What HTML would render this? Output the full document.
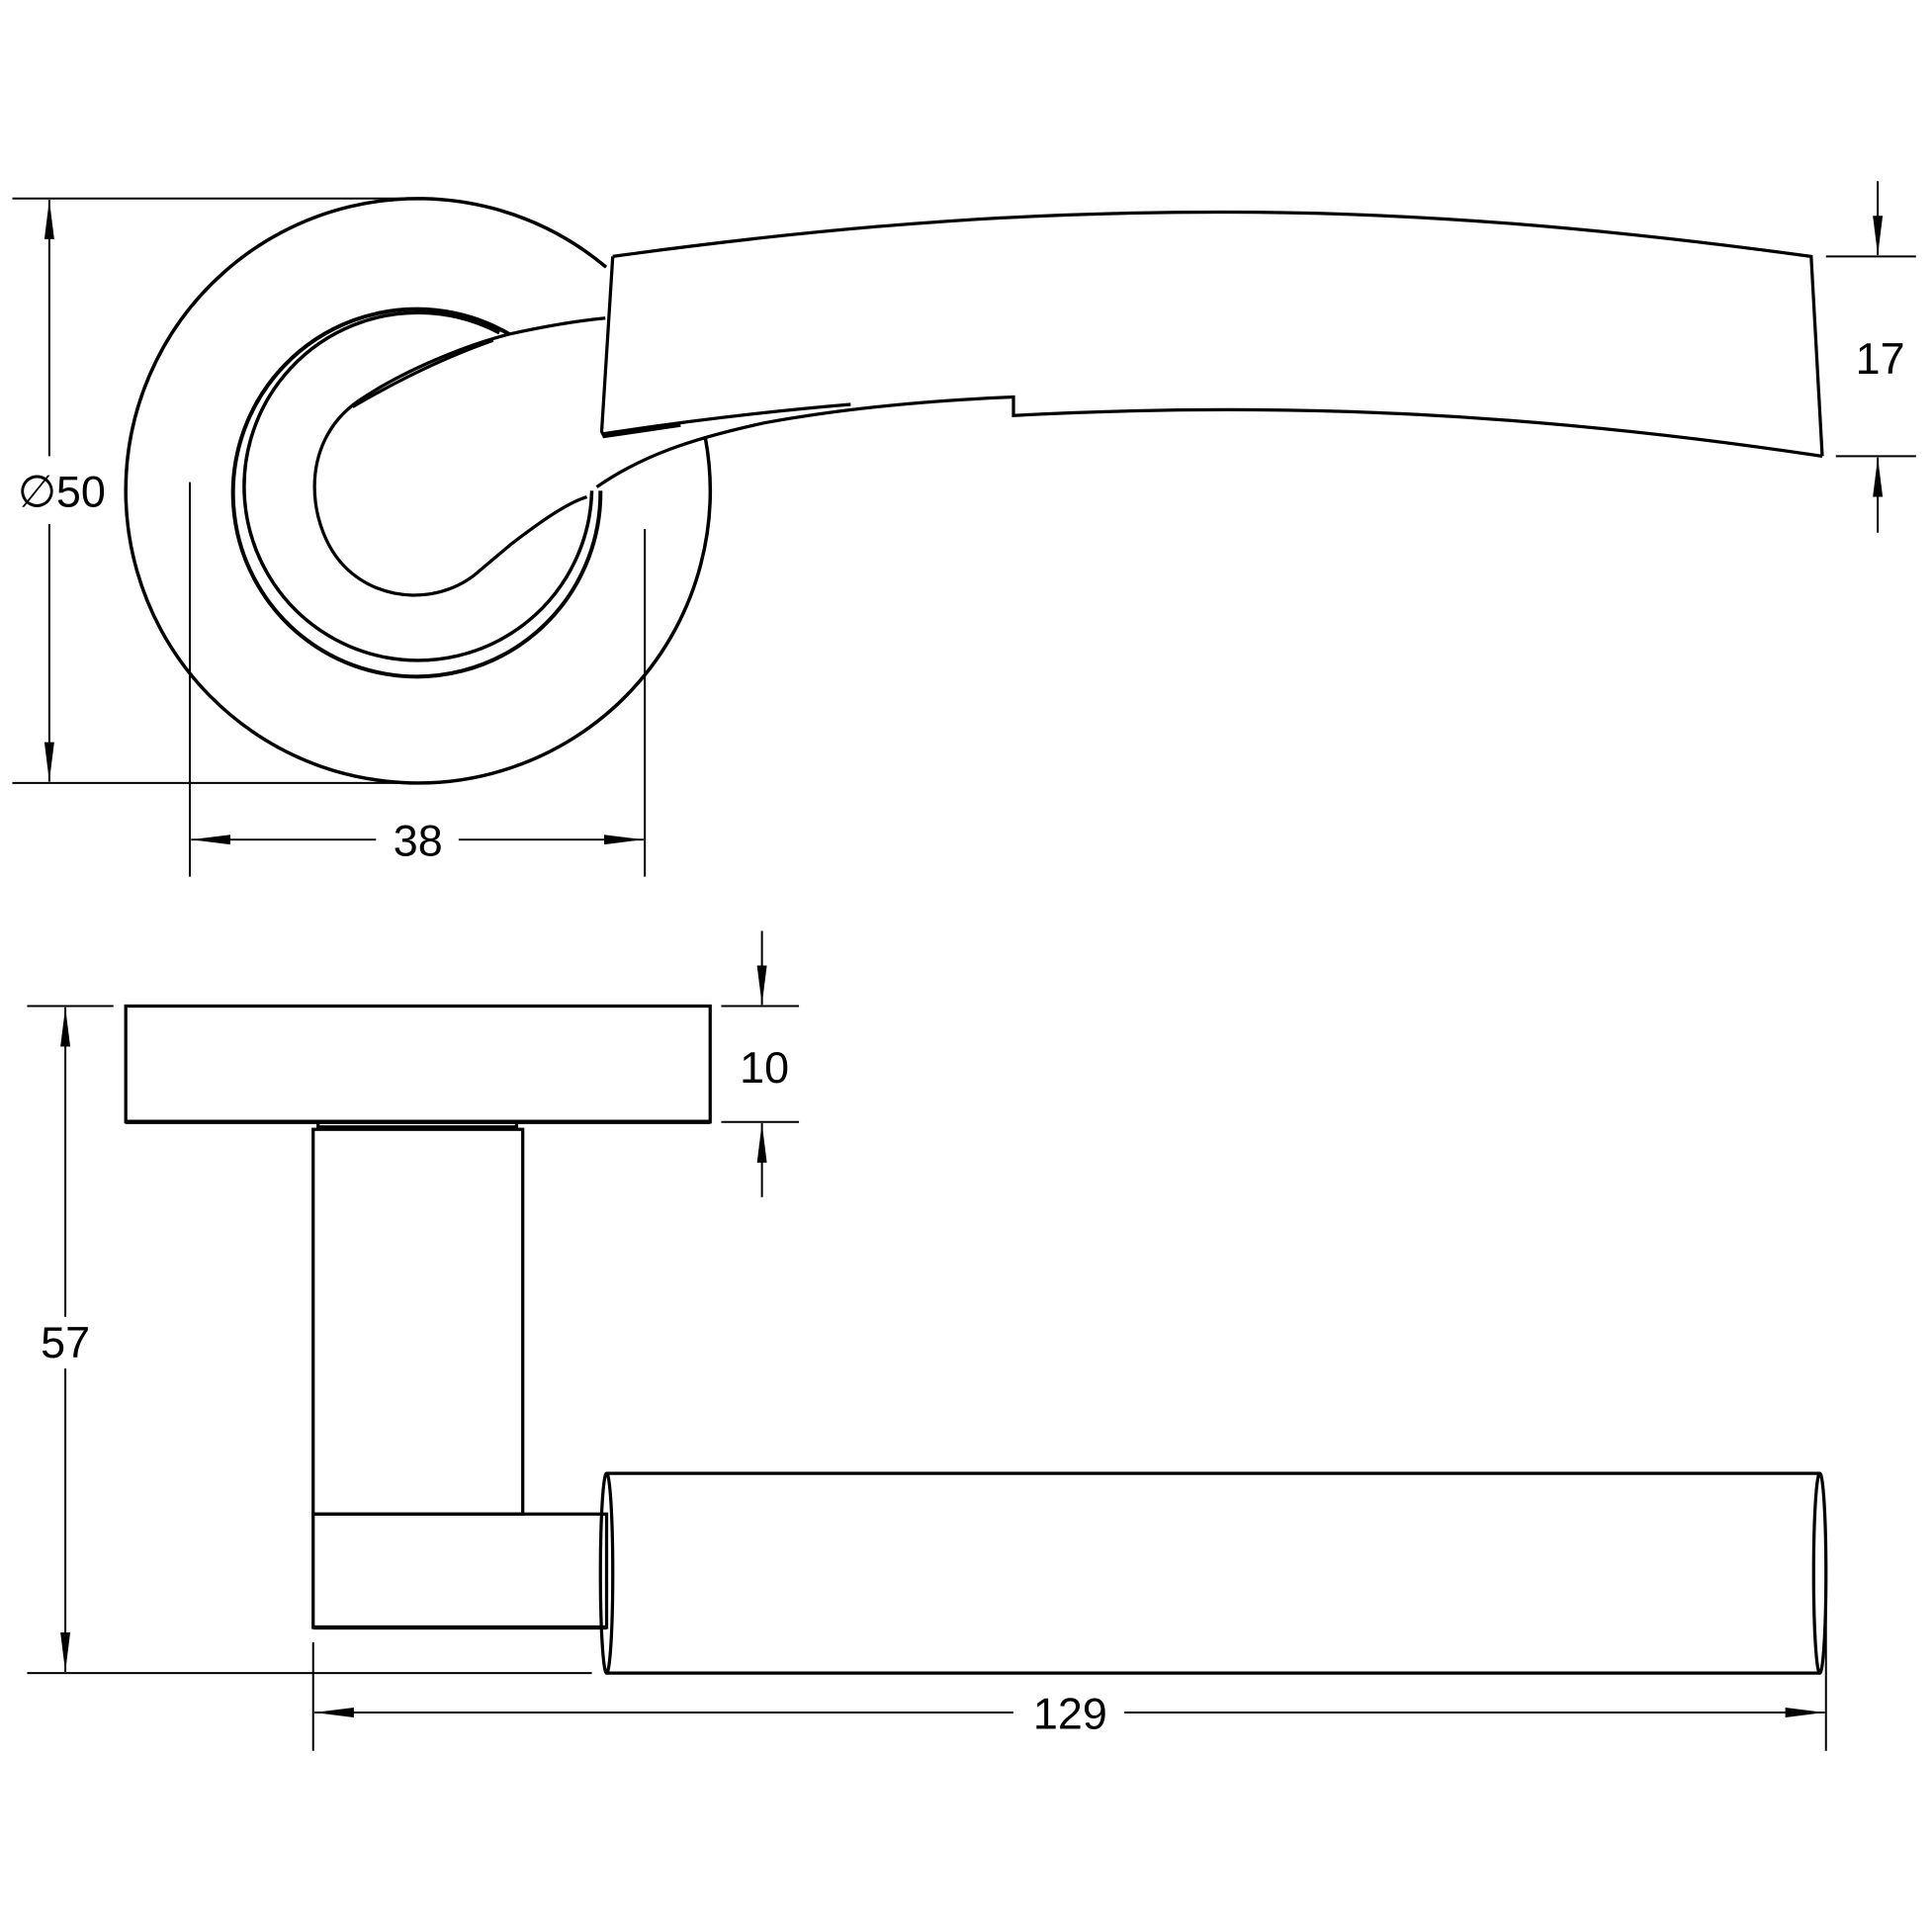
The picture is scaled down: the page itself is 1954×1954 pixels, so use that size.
<!DOCTYPE html>
<html><head><style>html,body{margin:0;padding:0;background:#fff}svg{display:block}</style></head>
<body>
<svg width="1954" height="1954" viewBox="0 0 1567 1567" xmlns="http://www.w3.org/2000/svg">
<defs>
<marker id="a" viewBox="0 0 32 8" refX="32" refY="4" markerWidth="32" markerHeight="8" markerUnits="userSpaceOnUse" orient="auto"><path d="M0,0 L32,4 L0,8 z" fill="#000"/></marker>
</defs>
<g fill="none" stroke="#000" stroke-width="2.6">
<!-- top view -->
<path d="M572,354.6 A237,237 0 1 1 491.6,216.7" stroke-width="2.8"/>
<path d="M291,325 C240,360 250,430 280,460 C310,490 360,490 390,462 L415,441 C440,422 460,408 476,403" stroke-width="2.6"/>
<path d="M413,271 A149,149 0 1 0 487,398" stroke-width="3.2"/>
<path d="M405,270 A141,141 0 1 0 480,398" stroke-width="2.8"/>
<path d="M291,325 C320,305 370,282 413,271 C440,265 470,260 491,258"/>
<path d="M286,330 C320,310 360,290 400,276"/>
<path d="M484,395 C520,370 560,356 620,343 C680,332 750,325 822,322 L822,337 C1050,325 1250,336 1478,370"/>
<path d="M488,352 C560,341 630,333 690,328"/>
<path d="M497,208 C700,180 850,172 990,172 C1150,172 1300,185 1469,208 L1478,370"/>
<path d="M497,208 L488,350 L490,354 L552,345"/>
<!-- dims top -->
<g stroke-width="1.6">
<line x1="10" y1="161" x2="339" y2="161"/><line x1="10" y1="635" x2="339" y2="635"/>
<line x1="40" y1="370" x2="40" y2="162" marker-end="url(#a)"/><line x1="40" y1="425" x2="40" y2="634" marker-end="url(#a)"/>
<line x1="154" y1="391" x2="154" y2="711"/><line x1="523" y1="429" x2="523" y2="711"/>
<line x1="305" y1="681" x2="155" y2="681" marker-end="url(#a)"/><line x1="372" y1="681" x2="522" y2="681" marker-end="url(#a)"/>
<line x1="1481" y1="208" x2="1554" y2="208"/><line x1="1489" y1="370" x2="1554" y2="370"/>
<line x1="1523" y1="147" x2="1523" y2="207" marker-end="url(#a)"/><line x1="1523" y1="432" x2="1523" y2="371" marker-end="url(#a)"/>
</g>
<!-- side view -->
<rect x="102" y="816" width="474" height="94"/>
<line x1="102" y1="910" x2="576" y2="910" stroke-width="3.5"/>
<path d="M258,910 V916 M419,910 V916 M258,914 H419"/>
<rect x="254" y="916" width="170" height="312"/>
<rect x="254" y="1228" width="238" height="92"/>
<line x1="254" y1="1320" x2="492" y2="1320" stroke-width="3.5"/>
<path d="M492,1195 H1476 M492,1357 H1476"/>
<ellipse cx="492" cy="1276" rx="5" ry="81"/>
<ellipse cx="1476" cy="1276" rx="5" ry="81"/>
<g stroke-width="1.6">
<line x1="585" y1="816" x2="648" y2="816"/><line x1="585" y1="910" x2="648" y2="910"/>
<line x1="618" y1="755" x2="618" y2="815" marker-end="url(#a)"/><line x1="618" y1="971" x2="618" y2="911" marker-end="url(#a)"/>
<line x1="22" y1="816" x2="92" y2="816"/><line x1="22" y1="1357" x2="480" y2="1357"/>
<line x1="53" y1="1068" x2="53" y2="817" marker-end="url(#a)"/><line x1="53" y1="1110" x2="53" y2="1356" marker-end="url(#a)"/>
<line x1="254" y1="1332" x2="254" y2="1420"/><line x1="1481" y1="1280" x2="1481" y2="1420"/>
<line x1="822" y1="1389" x2="255" y2="1389" marker-end="url(#a)"/><line x1="912" y1="1389" x2="1480" y2="1389" marker-end="url(#a)"/>
</g>
</g>
<g font-family="Liberation Sans, sans-serif" font-size="36" fill="#000" text-anchor="middle">
<text x="50" y="411">∅50</text>
<text x="339" y="694">38</text>
<text x="1525" y="303">17</text>
<text x="620" y="878">10</text>
<text x="53" y="1101">57</text>
<text x="868" y="1402">129</text>
</g>
</svg>
</body></html>
